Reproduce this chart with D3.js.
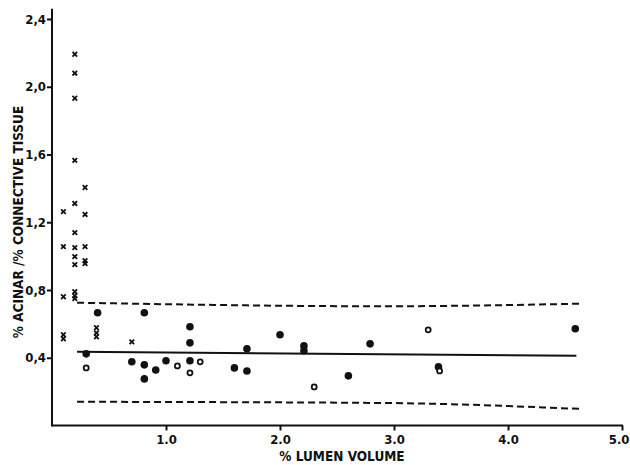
<!DOCTYPE html>
<html>
<head>
<meta charset="utf-8">
<script src="https://cdn.jsdelivr.net/npm/d3@7"></script>
<style>
  body { margin: 0; background: #fff; }
  svg { display: block; }
  .axis path, .axis line { stroke: #111; stroke-width: 2; }
  .axis text { font-family: "DejaVu Sans Condensed", sans-serif; font-size: 13px; font-weight: bold; fill: #111; }
  .axis-label { font-family: "DejaVu Sans Condensed", sans-serif; font-size: 13.5px; font-weight: bold; fill: #111; }
</style>
</head>
<body>
<div id="chart"></div>
<script>
// Crosses (x = lumen volume, y = acinar/connective ratio)
const crossX = [0.10, 0.10, 0.10, 0.10, 0.10,
    0.20, 0.20, 0.20, 0.20, 0.20, 0.20, 0.20, 0.20, 0.20, 0.20, 0.20, 0.20,
    0.29, 0.29, 0.29, 0.29, 0.29,
    0.39, 0.39, 0.39, 0.70];
const crossY = [1.263, 1.056, 0.760, 0.536, 0.512,
    2.192, 2.080, 1.932, 1.565, 1.311, 1.139, 1.050, 0.997, 0.950, 0.790, 0.766, 0.749,
    1.405, 1.246, 1.056, 0.973, 0.956,
    0.577, 0.547, 0.524, 0.494];

// Filled circles
const filledX = [0.30, 0.40, 0.70, 0.81, 0.81, 0.81, 0.91, 1.00, 1.21, 1.21, 1.21,
    1.60, 1.71, 1.71, 2.00, 2.21, 2.21, 2.60, 2.79, 3.39, 4.59];
const filledY = [0.423, 0.666, 0.376, 0.666, 0.358, 0.275, 0.328, 0.382, 0.583, 0.488, 0.382,
    0.340, 0.453, 0.322, 0.536, 0.470, 0.441, 0.293, 0.482, 0.346, 0.571];

// Open circles
const openX = [0.30, 1.10, 1.21, 1.30, 2.30, 3.30, 3.40];
const openY = [0.340, 0.352, 0.311, 0.376, 0.228, 0.565, 0.322];

// Regression line and dashed bands
const lineX = [0.22, 4.60];
const lineY = [0.435, 0.412];
const upperX = [0.22, 2.90, 4.63];
const upperY = [0.725, 0.704, 0.719];
const lowerX = [0.22, 2.90, 4.63];
const lowerY = [0.140, 0.133, 0.098];

// Tick labels
const xTicks = [1, 2, 3, 4, 5];
const xTickLabels = ["1.0", "2.0", "3.0", "4.0", "5.0"];
const yTicks = [0.4, 0.8, 1.2, 1.6, 2.0, 2.4];
const yTickLabels = ["0,4", "0,8", "1,2", "1,6", "2,0", "2,4"];

// Dimensions
const width = 630, height = 465;
const margin = { top: 9, right: 8, bottom: 39, left: 52 };

const svg = d3.select("#chart")
    .append("svg")
    .attr("width", width)
    .attr("height", height);

// Scales
const x = d3.scaleLinear()
    .domain([0, 5])
    .range([margin.left, 622]);

const y = d3.scaleLinear()
    .domain([0, 2.4])
    .range([425.5, 19]);

// X Axis
svg.append("g")
    .attr("class", "axis")
    .attr("transform", `translate(0,${y(0)})`)
    .call(d3.axisBottom(x)
        .tickValues(xTicks)
        .tickFormat((d, i) => xTickLabels[i])
        .tickSize(5)
        .tickSizeOuter(0)
        .tickPadding(4))
    .call(g => g.select(".domain").attr("d", `M${x(0)},0H${x(5) + 1}`))
    // last label sits against the right edge
    .call(g => g.selectAll(".tick:last-of-type text")
        .attr("text-anchor", "end")
        .attr("x", 7));

// Y Axis
svg.append("g")
    .attr("class", "axis")
    .attr("transform", `translate(${x(0)},0)`)
    .call(d3.axisLeft(y)
        .tickValues(yTicks)
        .tickFormat((d, i) => yTickLabels[i])
        .tickSize(5)
        .tickSizeOuter(0)
        .tickPadding(1))
    .call(g => g.select(".domain").attr("d", `M0,${y(0) + 1}V${y(2.46)}`));

// Axis labels
svg.append("text")
    .attr("class", "axis-label")
    .attr("x", 342)
    .attr("y", 461)
    .style("text-anchor", "middle")
    .text("% LUMEN VOLUME");

svg.append("text")
    .attr("class", "axis-label")
    .attr("transform", "rotate(-90)")
    .attr("x", -222)
    .attr("y", 23)
    .style("text-anchor", "middle")
    .text("% ACINAR /% CONNECTIVE TISSUE");

// Lines
const line = d3.line().x(d => x(d[0])).y(d => y(d[1]));

svg.append("path")
    .datum(d3.zip(upperX, upperY))
    .attr("d", line.curve(d3.curveMonotoneX))
    .attr("fill", "none")
    .attr("stroke", "#111")
    .attr("stroke-width", 2)
    .attr("stroke-dasharray", "7,4");

svg.append("path")
    .datum(d3.zip(lowerX, lowerY))
    .attr("d", line.curve(d3.curveMonotoneX))
    .attr("fill", "none")
    .attr("stroke", "#111")
    .attr("stroke-width", 2)
    .attr("stroke-dasharray", "7,4");

svg.append("path")
    .datum(d3.zip(lineX, lineY))
    .attr("d", line.curve(d3.curveLinear))
    .attr("fill", "none")
    .attr("stroke", "#111")
    .attr("stroke-width", 2);

// Crosses
const cs = 2.3;
svg.selectAll(".cross")
    .data(d3.zip(crossX, crossY))
    .enter().append("path")
    .attr("class", "cross")
    .attr("d", d => {
        const cx = x(d[0]), cy = y(d[1]);
        return `M${cx - cs},${cy - cs}L${cx + cs},${cy + cs}M${cx + cs},${cy - cs}L${cx - cs},${cy + cs}`;
    })
    .attr("stroke", "#111")
    .attr("stroke-width", 1.8);

// Filled circles
svg.selectAll(".filled")
    .data(d3.zip(filledX, filledY))
    .enter().append("circle")
    .attr("class", "filled")
    .attr("cx", d => x(d[0]))
    .attr("cy", d => y(d[1]))
    .attr("r", 3.8)
    .attr("fill", "#111");

// Open circles
svg.selectAll(".open")
    .data(d3.zip(openX, openY))
    .enter().append("circle")
    .attr("class", "open")
    .attr("cx", d => x(d[0]))
    .attr("cy", d => y(d[1]))
    .attr("r", 2.5)
    .attr("fill", "#fff")
    .attr("stroke", "#111")
    .attr("stroke-width", 1.8);
</script>
</body>
</html>
